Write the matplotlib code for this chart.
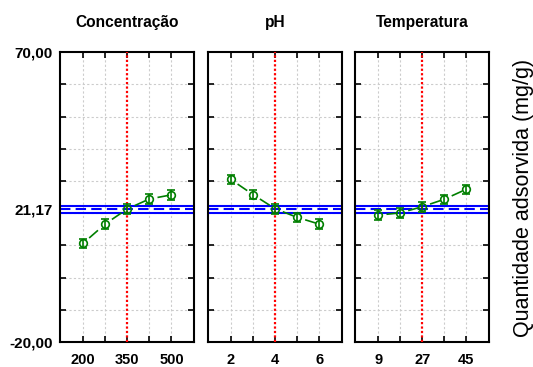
import matplotlib
matplotlib.use("Agg")
import matplotlib.pyplot as plt

# Médias marginais (quantidade adsorvida, mg/g) para cada fator
titulos = ["Concentração", "pH", "Temperatura"]

conc_x = [200, 275, 350, 425, 500]
conc_y = [10.6, 16.6, 21.3, 24.4, 25.7]
conc_err = [1.5, 1.5, 1.5, 1.5, 1.5]
conc_labels = ["200", "", "350", "", "500"]

ph_x = [2, 3, 4, 5, 6]
ph_y = [30.5, 25.8, 21.4, 18.7, 16.6]
ph_err = [1.5, 1.5, 1.5, 1.5, 1.5]
ph_labels = ["2", "", "4", "", "6"]

temp_x = [9, 18, 27, 36, 45]
temp_y = [19.4, 20.1, 22.0, 24.3, 27.4]
temp_err = [1.5, 1.5, 1.5, 1.5, 1.5]
temp_labels = ["9", "", "27", "", "45"]

centros = [350, 4, 27]
media_geral = 21.17
ic_media = 1.2

y_labels = ["-20,00", "21,17", "70,00"]
y_ticks = [-20, media_geral, 70]
y_grid = [-10, 0, 10, 20, 30, 40, 50, 60]

plt.rcParams['font.family'] = ['Liberation Sans', 'DejaVu Sans']

fig = plt.figure(figsize=(5.33, 3.67), dpi=100)

# posição dos painéis (fração da figura)
lefts = [0.1126, 0.390, 0.666]
larg = 0.252
base = 0.068
alt = 0.790
xlims = [(122.5, 577.5), (0.97, 7.03), (-0.5, 54.5)]

dados = [(conc_x, conc_y, conc_err, conc_labels),
         (ph_x, ph_y, ph_err, ph_labels),
         (temp_x, temp_y, temp_err, temp_labels)]

verde = '#007f00'
for k, (xs, ys, es, labs) in enumerate(dados):
    ax = fig.add_axes([lefts[k], base, larg, alt])
    ax.set_xlim(*xlims[k])
    ax.set_ylim(-20, 70)

    # grade cinza
    for x in xs:
        if x != centros[k]:
            ax.axvline(x, color='#cccccc', lw=0.8, ls=(0, (2, 2)), zorder=0)
    for y in y_grid:
        ax.axhline(y, color='#cccccc', lw=0.8, ls=(0, (2, 2)), zorder=0)

    # média geral e intervalo
    ax.axhline(media_geral, color='#0000ff', lw=1.5, ls=(0, (5, 2.5)), zorder=2)
    ax.axhline(media_geral + ic_media, color='#0000ff', lw=1.5, zorder=2)
    ax.axhline(media_geral - ic_media, color='#0000ff', lw=1.5, zorder=2)

    # ponto central
    ax.axvline(centros[k], color='#ff0000', lw=1.6, ls=(0, (1, 1)), zorder=3)

    # linha tracejada entre os pontos
    for i in range(len(xs) - 1):
        ax.plot(xs[i:i + 2], ys[i:i + 2], color=verde, lw=1.2,
                ls=(0, (0, 5, 7, 40)), zorder=4)
    ax.errorbar(xs, ys, yerr=es, fmt='o', color=verde, mfc='none', mec=verde,
                ms=5.5, mew=1.2, elinewidth=1.2, capsize=3, capthick=1.2, zorder=5)

    ax.set_xticks(xs)
    ax.set_xticklabels(labs, fontweight='bold', fontsize=10.5)
    ax.set_yticks(y_ticks)
    ax.set_yticks(y_grid, minor=True)
    if k == 0:
        ax.set_yticklabels(y_labels, fontweight='bold', fontsize=11)
    else:
        ax.set_yticklabels([])
    ax.tick_params(which='both', direction='in', top=True, right=True,
                   length=4, width=1.2, color='black')
    ax.tick_params(axis='x', pad=8)
    ax.tick_params(axis='y', pad=5)
    for sp in ax.spines.values():
        sp.set_linewidth(1.5)
    ax.set_title(titulos[k], fontweight='bold', fontsize=11.2, pad=18)

fig.text(523 / 533, 1 - 198 / 367, "Quantidade adsorvida (mg/g)", rotation=90,
         ha='center', va='center', fontsize=15.5)

fig.savefig("out.png", dpi=100)
